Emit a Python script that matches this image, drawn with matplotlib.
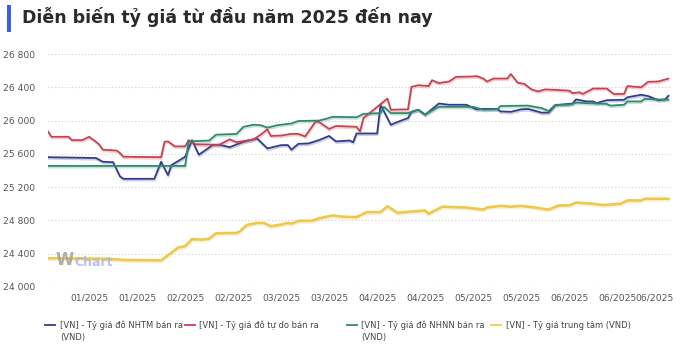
import pandas as pd
import matplotlib.pyplot as plt
import matplotlib.patheffects as pe
from matplotlib.lines import Line2D
from matplotlib.patches import Rectangle
from matplotlib.ticker import FuncFormatter

start = pd.Timestamp('2025-01-01')

# days counted from 1 Jan 2025, rates in VND per USD
nhtm_days = [0, 14, 16, 19, 21, 22, 31, 33, 35, 36, 40, 42, 44, 48, 50, 53, 57, 61, 64, 68,
             70, 71, 73, 76, 79, 82, 84, 88, 89, 90, 96, 97, 100, 103, 105, 106, 108, 110, 114, 117,
             122, 125, 127, 131, 132, 135, 138, 140, 144, 146, 148, 153, 154, 157, 159, 160, 163, 168, 169, 173,
             175, 178, 180, 181]
nhtm_vals = [25560, 25550, 25505, 25500, 25330, 25300, 25300, 25505, 25345, 25465,
             25565, 25765, 25590, 25705, 25710, 25680, 25745, 25785, 25665, 25705,
             25705, 25650, 25720, 25725, 25765, 25815, 25750, 25760, 25740, 25845,
             25845, 26190, 25950, 26000, 26030, 26105, 26130, 26070, 26205, 26190,
             26190, 26135, 26140, 26140, 26110, 26105, 26135, 26140, 26095, 26095,
             26185, 26205, 26255, 26230, 26230, 26210, 26245, 26250, 26280, 26310,
             26295, 26245, 26255, 26300]

tudo_days = [0, 1, 6, 7, 10, 12, 14, 15, 16, 20, 21, 22, 33, 34, 35, 37, 40, 41, 43, 50,
             53, 55, 60, 62, 64, 65, 68, 71, 73, 75, 78, 79, 82, 84, 90, 91, 92, 99, 100, 105,
             106, 108, 111, 112, 114, 117, 119, 124, 125, 127, 128, 130, 134, 135, 137, 139, 141, 143, 145, 152,
             153, 155, 156, 159, 163, 165, 168, 169, 173, 175, 178, 181]
tudo_vals = [25870, 25805, 25805, 25765, 25765, 25805, 25745, 25710, 25650, 25640,
             25610, 25565, 25560, 25745, 25750, 25690, 25690, 25765, 25715, 25710,
             25775, 25740, 25775, 25830, 25895, 25815, 25820, 25840, 25840, 25810,
             25985, 25985, 25900, 25935, 25925, 25870, 26030, 26265, 26130, 26135,
             26405, 26425, 26415, 26485, 26450, 26470, 26525, 26530, 26535, 26505,
             26470, 26505, 26505, 26560, 26455, 26440, 26375, 26350, 26375, 26360,
             26330, 26340, 26320, 26385, 26385, 26320, 26320, 26415, 26400, 26465,
             26470, 26505]

nhnn_days = [0, 40, 41, 47, 49, 55, 57, 60, 62, 64, 67, 71, 73, 79, 81, 83, 90, 92, 97, 98,
             100, 105, 108, 110, 114, 124, 127, 131, 132, 140, 144, 146, 148, 152, 154, 163, 164, 168, 169, 173,
             174, 181]
nhnn_vals = [25455, 25455, 25750, 25760, 25830, 25840, 25925, 25950, 25945, 25915,
             25945, 25965, 25995, 26000, 26020, 26045, 26040, 26080, 26090, 26165,
             26090, 26090, 26130, 26075, 26165, 26165, 26130, 26135, 26175, 26180,
             26150, 26115, 26190, 26190, 26215, 26200, 26180, 26190, 26230, 26230,
             26260, 26250]

tt_days = [0, 17, 22, 33, 38, 40, 42, 45, 47, 49, 55, 56, 58, 61, 63, 65, 68, 70, 71, 73,
           77, 79, 83, 86, 90, 93, 97, 99, 102, 104, 110, 111, 115, 122, 127, 128, 132, 135, 138, 142,
           146, 149, 152, 154, 159, 162, 167, 169, 173, 174, 181]
tt_vals = [24345, 24340, 24325, 24320, 24475, 24490, 24575, 24570, 24580, 24645,
           24650, 24670, 24745, 24770, 24770, 24730, 24750, 24770, 24760, 24795,
           24795, 24825, 24860, 24845, 24840, 24900, 24900, 24970, 24890, 24900,
           24920, 24880, 24965, 24955, 24930, 24955, 24975, 24965, 24975, 24955,
           24930, 24980, 24980, 25015, 25000, 24985, 25000, 25040, 25040, 25060,
           25060]

tick_days = [12, 26, 40, 54, 68, 82, 96, 110, 124, 138, 152, 166, 177]

labels = ['[VN] - Tỷ giá đô NHTM bán ra\n(VND)',
          '[VN] - Tỷ giá đô tự do bán ra',
          '[VN] - Tỷ giá đô NHNN bán ra\n(VND)',
          '[VN] - Tỷ giá trung tâm (VND)']
colors = ['#323c8c', '#c8414f', '#2f8a6c', '#eec84c']
widths = [1.3, 1.3, 1.3, 1.9]
series = [(nhtm_days, nhtm_vals), (tudo_days, tudo_vals),
          (nhnn_days, nhnn_vals), (tt_days, tt_vals)]


def to_dates(days):
    return start + pd.to_timedelta(days, unit='D')


fig = plt.figure(figsize=(7, 3.46), dpi=100)
ax = fig.add_axes([48 / 700, 1 - 287 / 346, 624 / 700, 233 / 346])

for (days, vals), color, lw in zip(series, colors, widths):
    ax.plot(to_dates(days), vals, color=color, lw=lw,
            solid_joinstyle='round', solid_capstyle='round',
            path_effects=[pe.SimpleLineShadow(offset=(0.4, -1.2), shadow_color=color, alpha=0.25),
                          pe.Normal()])

ax.set_ylim(24000, 26800)
ax.set_yticks(range(24000, 26801, 400))
ax.yaxis.set_major_formatter(FuncFormatter(lambda v, _: f'{v:,.0f}'.replace(',', ' ')))
ax.set_xlim(start, start + pd.Timedelta(days=182))
ticks = to_dates(tick_days)
ax.set_xticks(ticks)
ax.set_xticklabels([t.strftime('%m/%Y') for t in ticks])

ax.grid(axis='y', color='#cfcfcf', linestyle=(0, (1, 2)), linewidth=0.8)
ax.set_axisbelow(True)
for s in ax.spines.values():
    s.set_visible(False)
ax.tick_params(axis='y', length=0, pad=9, labelsize=6.6, labelcolor='#555555')
ax.tick_params(axis='x', length=0, pad=5, labelsize=6.6, labelcolor='#555555')

# watermark
ax.text(0.012, 0.115, 'W', transform=ax.transAxes, fontsize=12, fontweight='bold',
        color='#9c9c9c', alpha=0.8, va='center')
ax.text(0.042, 0.105, 'Chart', transform=ax.transAxes, fontsize=9, fontweight='bold',
        color='#aab0e6', alpha=0.8, va='center')

# title with accent bar
fig.add_artist(Rectangle((7 / 700, 1 - 32 / 346), 4 / 700, 27 / 346,
                         transform=fig.transFigure, color='#3b5ee8', lw=0))
fig.text(22 / 700, 1 - 17 / 346, 'Diễn biến tỷ giá từ đầu năm 2025 đến nay',
         fontsize=12.5, fontweight='bold', color='#2a2a2e', va='center')

# legend: key line sits on the first text row
key_x = [45, 185, 347, 491]
text_x = [60, 199, 361, 506]
key_y = 1 - 325 / 346
text_top = 1 - 320.5 / 346
for kx, tx, color, label in zip(key_x, text_x, colors, labels):
    fig.add_artist(Line2D([kx / 700, (kx + 10) / 700], [key_y, key_y],
                          transform=fig.transFigure, color=color, lw=1.3))
    fig.text(tx / 700, text_top, label, fontsize=6.0, color='#444444',
             va='top', linespacing=1.45, transform=fig.transFigure)

fig.savefig('out.png', dpi=100)
